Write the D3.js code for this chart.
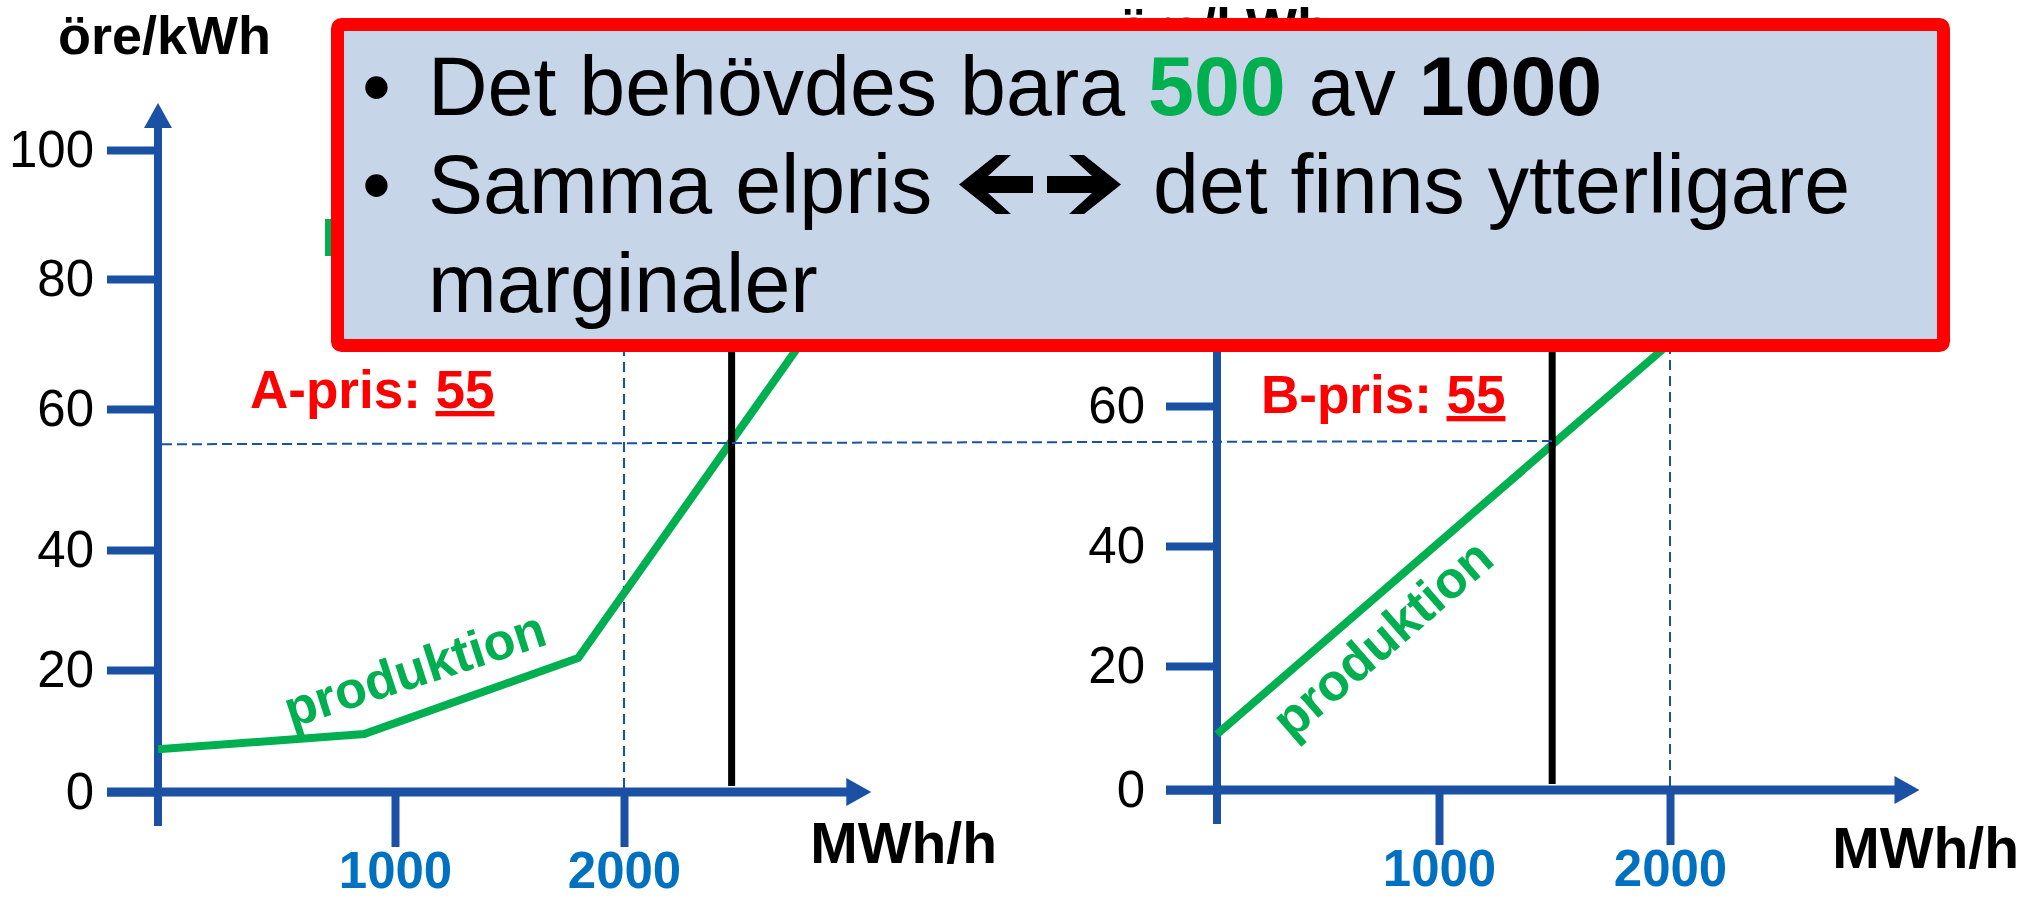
<!DOCTYPE html>
<html>
<head>
<meta charset="utf-8">
<script src="https://cdn.jsdelivr.net/npm/d3@7"></script>
<style>
  body { margin: 0; background: #fff; }
  svg text { font-family: "Liberation Sans", Arial, sans-serif; }
</style>
</head>
<body>
<div id="chart"></div>
<script>
"use strict";
// values (öre/kWh against MWh/h)
var yTicks = [0, 20, 40, 60, 80, 100];
var yTicksB = [0, 20, 40, 60]; // the rest sit behind the callout
var xTicks = [1000, 2000];
var xKnots = [0, 1000, 2000];
var xEnd = 3080; // where the axis arrow ends
var prodA = [[0, 7], [870, 9.5], [1800, 22], [2900, 76.5]];
var prodB = [[0, 9], [2000, 70]];
var demandA = 2470,
  demandB = 1490;
var priceA = 55,
  priceB = 55;
var capLine = 2000;

var w = 2024,
  h = 900;
var blue = "#1a51a5",
  tickBlue = "#0070c0",
  green = "#00b050",
  red = "#ff0000";

var svg = d3
  .select("#chart")
  .append("svg")
  .attr("width", w)
  .attr("height", h);

//hand drawn slide: tick spacing is not quite even, so use the tick positions as knots
var panels = [
  {
    name: "A",
    prod: prodA,
    demand: demandA,
    price: priceA,
    ticks: yTicks,
    xRange: [158, 395, 624],
    yRange: [792, 670, 550, 409, 279, 150],
    labelPad: 13,
    unitY: 54,
    priceX: 250,
    priceY: 408,
    prodAt: [420, 686, -18],
    mwhX: 997,
    mwhY: 863
  },
  {
    name: "B",
    prod: prodB,
    demand: demandB,
    price: priceB,
    ticks: yTicksB,
    xRange: [1217, 1439, 1670],
    yRange: [790, 666, 546, 406, 280, 150],
    labelPad: 21,
    unitY: 46,
    priceX: 1261,
    priceY: 413,
    prodAt: [1394, 652, -41],
    mwhX: 2019,
    mwhY: 868
  }
];

panels.forEach(function(p) {
  p.x = d3.scaleLinear().domain(xKnots).range(p.xRange);
  p.y = d3.scaleLinear().domain(yTicks).range(p.yRange);
});

//something green sits behind the callout, only a sliver peeks out
svg
  .append("rect")
  .attr("x", 325)
  .attr("y", 219)
  .attr("width", 8)
  .attr("height", 37)
  .attr("fill", green);

panels.forEach(function(p) {
  var g = svg.append("g").attr("class", "panel-" + p.name);
  var x0 = p.x(0),
    y0 = p.y(0),
    yTop = p.y(100);

  var line = d3
    .line()
    .x(function(d) {
      return p.x(d[0]);
    })
    .y(function(d) {
      return p.y(d[1]);
    });

  g.append("text")
    .attr("x", x0 - 100)
    .attr("y", p.unitY)
    .attr("font-size", 54)
    .attr("font-weight", "bold")
    .text("öre/kWh");

  //y axis
  var yAxis = g
    .append("g")
    .attr("transform", "translate(" + x0 + ",0)")
    .call(
      d3
        .axisLeft(p.y)
        .tickValues(p.ticks)
        .tickSize(51)
        .tickPadding(p.labelPad)
    );
  yAxis.select(".domain").remove();
  yAxis
    .selectAll(".tick line")
    .attr("stroke", blue)
    .attr("stroke-width", 8);
  yAxis
    .selectAll(".tick text")
    .attr("font-size", 51)
    .attr("fill", "#000")
    .style("font-family", '"Liberation Sans", Arial, sans-serif');

  g.append("line")
    .attr("x1", x0)
    .attr("x2", x0)
    .attr("y1", y0 + 34)
    .attr("y2", yTop - 24)
    .attr("stroke", blue)
    .attr("stroke-width", 8);
  g.append("path")
    .attr(
      "d",
      "M" + (x0 - 14) + "," + (yTop - 22) +
        "L" + x0 + "," + (yTop - 47) +
        "L" + (x0 + 14) + "," + (yTop - 22) + "Z"
    )
    .attr("fill", blue);

  //x axis
  var xAxis = g
    .append("g")
    .attr("transform", "translate(0," + y0 + ")")
    .call(
      d3
        .axisBottom(p.x)
        .tickValues(xTicks)
        .tickSize(55)
        .tickPadding(5)
        .tickFormat(d3.format("d"))
    );
  xAxis.select(".domain").remove();
  xAxis
    .selectAll(".tick line")
    .attr("stroke", blue)
    .attr("stroke-width", 8);
  xAxis
    .selectAll(".tick text")
    .attr("font-size", 51)
    .attr("font-weight", "bold")
    .attr("fill", tickBlue)
    .style("font-family", '"Liberation Sans", Arial, sans-serif');

  var xTip = p.x(xEnd);
  g.append("line")
    .attr("x1", x0 - 51)
    .attr("x2", xTip - 22)
    .attr("y1", y0)
    .attr("y2", y0)
    .attr("stroke", blue)
    .attr("stroke-width", 9);
  g.append("path")
    .attr(
      "d",
      "M" + (xTip - 25) + "," + (y0 - 14) +
        "L" + xTip + "," + y0 +
        "L" + (xTip - 25) + "," + (y0 + 14) + "Z"
    )
    .attr("fill", blue);

  g.append("text")
    .attr("x", p.mwhX)
    .attr("y", p.mwhY)
    .attr("text-anchor", "end")
    .attr("font-size", 57)
    .attr("font-weight", "bold")
    .text("MWh/h");

  //capacity marker at 2000
  g.append("line")
    .attr("x1", p.x(capLine))
    .attr("x2", p.x(capLine))
    .attr("y1", y0 - 4)
    .attr("y2", yTop)
    .attr("stroke", blue)
    .attr("stroke-width", 2)
    .attr("stroke-dasharray", "10,6");

  //supply curve
  g.append("path")
    .datum(p.prod)
    .attr("d", line)
    .attr("fill", "none")
    .attr("stroke", green)
    .attr("stroke-width", 8)
    .attr("stroke-linejoin", "miter");

  //demand
  g.append("line")
    .attr("x1", p.x(p.demand))
    .attr("x2", p.x(p.demand))
    .attr("y1", y0 - 6)
    .attr("y2", yTop)
    .attr("stroke", "#000")
    .attr("stroke-width", 7);

  var pt = g
    .append("text")
    .attr("x", p.priceX)
    .attr("y", p.priceY)
    .attr("font-size", 53)
    .attr("font-weight", "bold")
    .attr("fill", red);
  pt.append("tspan").text(p.name + "-pris: ");
  pt.append("tspan")
    .attr("text-decoration", "underline")
    .style("text-decoration", "underline")
    .text(p.price);

  g.append("text")
    .attr(
      "transform",
      "translate(" + p.prodAt[0] + "," + p.prodAt[1] + ") rotate(" + p.prodAt[2] + ")"
    )
    .attr("text-anchor", "middle")
    .attr("font-size", 52)
    .attr("font-weight", "bold")
    .attr("fill", green)
    .text("produktion");
});

//same price in both areas
var pA = panels[0],
  pB = panels[1];
svg
  .append("line")
  .attr("x1", pA.x(0) + 4)
  .attr("x2", pB.x(pB.demand))
  .attr("y1", pA.y(priceA))
  .attr("y2", pB.y(priceB))
  .attr("stroke", blue)
  .attr("stroke-width", 2)
  .attr("stroke-dasharray", "10,5");

//callout box
var box = svg.append("g");
box
  .append("rect")
  .attr("x", 337.5)
  .attr("y", 24.5)
  .attr("width", 1606)
  .attr("height", 321)
  .attr("rx", 4)
  .attr("fill", "#c7d5e9")
  .attr("stroke", red)
  .attr("stroke-width", 13);

var fs = 82.5;
[115, 213].forEach(function(by) {
  box
    .append("text")
    .attr("x", 362)
    .attr("y", by)
    .attr("font-size", fs)
    .text("•");
});

var l1 = box
  .append("text")
  .attr("x", 428)
  .attr("y", 115)
  .attr("font-size", fs);
l1.append("tspan").text("Det behövdes bara ");
l1.append("tspan")
  .attr("font-weight", "bold")
  .attr("fill", green)
  .text("500");
l1.append("tspan").text(" av ");
l1.append("tspan")
  .attr("font-weight", "bold")
  .text("1000");

box
  .append("text")
  .attr("x", 428)
  .attr("y", 213)
  .attr("font-size", fs)
  .text("Samma elpris");

//thick double arrow between the two phrases
var arrow = "M0,0L37,-29.5L52,-29.5L29,-8.5L74,-8.5L74,8.5L29,8.5L52,29.5L37,29.5Z";
box
  .append("path")
  .attr("d", arrow)
  .attr("transform", "translate(959,184.5)");
box
  .append("path")
  .attr("d", arrow)
  .attr("transform", "translate(1121,184.5) scale(-1,1)");

box
  .append("text")
  .attr("x", 1153)
  .attr("y", 213)
  .attr("font-size", fs)
  .text("det finns ytterligare");

box
  .append("text")
  .attr("x", 428)
  .attr("y", 312)
  .attr("font-size", fs)
  .text("marginaler");
</script>
</body>
</html>
